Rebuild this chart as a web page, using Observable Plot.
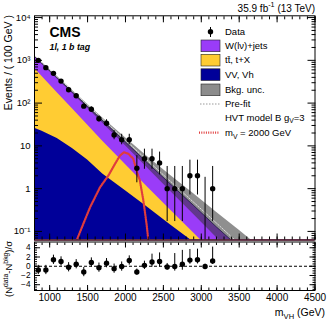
<!DOCTYPE html>
<html><head><meta charset="utf-8">
<script src="https://cdn.jsdelivr.net/npm/d3@7"></script>
<script src="https://cdn.jsdelivr.net/npm/@observablehq/plot@0.6"></script>
<style>
body{margin:0;background:#fff;}
#wrap{position:relative;width:332px;height:322px;overflow:hidden;background:#fff;}
#wrap svg{position:absolute;left:0;}
</style></head><body><div id="wrap"></div>
<script>
// ---- data ----
const binCenters = [850, 950, 1050, 1150, 1250, 1350, 1450, 1550, 1650, 1750, 1850, 1950, 2050, 2150, 2250, 2350, 2450, 2550, 2650, 2750, 2850, 2950, 3050, 3150];
const dataCounts = [1000, 675, 497, 327, 206, 149, 85, 72, 43, 34, 18, 14, 14, 3, 5, 5, 4, 1, 1, 1, 2, 2, 0, 1];
const dataErrLo  = [969, 649, 475, 309, 192, 137, 76, 63.6, 36.5, 28.2, 13.9, 10.6, 10.6, 1.37, 2.84, 2.84, 2.09, 0.17, 0.17, 0.17, 0.71, 0.71, 0, 0.17];
const dataErrHi  = [1032, 701, 520, 345, 221, 162, 95, 81.5, 50.6, 40.8, 22.8, 18.7, 18.7, 5.92, 8.38, 8.38, 7.16, 3.30, 3.30, 3.30, 4.64, 4.64, 1.84, 3.30];

const bkgMass = [800, 900, 1100, 1300, 1500, 1700, 2000, 2300, 2600, 2900, 3200, 3500, 3800, 4500];
const vvVh    = [26, 22, 14.8, 8.7, 4.7, 2.2, 0.89, 0.36, 0.14, 0.056, 0.022, 0.0086, 0.0034, 0.0005];
const ttX     = [624, 398, 160, 65, 26, 10.7, 2.8, 0.69, 0.17, 0.036, 0.005, 0.001, 0.0002, 0.00001];
const wJets   = [590, 425, 217, 108, 53, 26, 8.6, 2.8, 0.94, 0.31, 0.10, 0.033, 0.011, 0.0008];
const bkgUncLo = [1178, 794, 365, 167, 76, 34, 10.1, 2.9, 0.85, 0.25, 0.072, 0.02, 0.006, 0.0003];
const bkgUncHi = [1302, 896, 423, 200, 94, 45, 15.4, 5.4, 2.0, 0.76, 0.28, 0.107, 0.039, 0.0036];
const preFit   = [1290, 880, 410, 192, 90, 42, 13.5, 4.4, 1.45, 0.48, 0.157, 0.051, 0.017, 0.0012];

const sigMass  = [1300, 1363, 1450, 1534, 1666, 1775, 1862, 1928, 1980, 2040, 2103, 2153, 2190, 2235, 2278, 2300, 2330];
const sigValue = [0.02, 0.066, 0.16, 0.37, 1.09, 2.03, 3.8, 5.96, 7.1, 6.5, 5.0, 2.4, 1.55, 0.54, 0.15, 0.066, 0.02];

const pullValue = [-0.81, -0.81, 1.4, 1.04, -0.22, 0.44, -1.26, 0.81, -0.3, 0.67, -0.52, -0.07, 1.25, -1.26, 0.2, 0.92, 1.04, -0.15, -0.05, 0.44, 1.33, 1.4, -0.07, 1.15];
const pullErrDn = [1, 1, 1, 1, 1, 1, 1, 1, 1, 1, 1, 1, 1, 0.65, 0.9, 1.1, 1.2, 0.65, 1.0, 1.3, 0.9, 0.9, 0.4, 0.75];
const pullErrUp = [1, 1, 1, 1, 1, 1, 1, 1, 1, 1, 1, 1, 1, 0.65, 0.9, 1.7, 1.85, 0.75, 2.8, 3.0, 2.3, 2.3, 0.5, 3.0];

const xMajorTicks = [1000, 1500, 2000, 2500, 3000, 3500, 4000, 4500];
const yMajorTicks = [0.1, 1, 10, 100, 1000, 10000];
const yMajorLabels = ["10\u207B\u00B9", "1", "10", "10\u00B2", "10\u00B3", "10\u2074"];
const pullTicks = [-4, -2, 0, 2, 4];
const pullTickLabels = ["\u22124", "\u22122", "0", "2", "4"];

// ---- styling ----
const FONT = "'Liberation Sans', Arial, Helvetica, sans-serif";
const cW = "#9a3cf8", cT = "#ffcc33", cV = "#000099", cSig = "#e03c3c";
const W = 332;
const xDom = [800, 4500];
const yDom = [0.063, 11000];
const frameRight = 314.5;

// ---- tables ----
const bkg = bkgMass.map((m, i) => ({
  m, cum1: vvVh[i], cum2: vvVh[i] + ttX[i], cum3: vvVh[i] + ttX[i] + wJets[i],
  lo: bkgUncLo[i], hi: bkgUncHi[i], pre: preFit[i]
}));
const sig = sigMass.map((m, i) => ({m, v: sigValue[i]}));
const data = binCenters.map((m, i) => ({m, n: dataCounts[i], lo: dataErrLo[i], hi: dataErrHi[i]}));
const pulls = binCenters.map((m, i) => ({m, p: pullValue[i], dn: pullErrDn[i], up: pullErrUp[i]}));

const xMinorTicks = d3.range(800, 4501, 100);
const yMinorTicks = [];
for (let e = -2; e <= 4; e++) for (let k = 2; k <= 9; k++) {
  const v = k * Math.pow(10, e);
  if (v >= yDom[0] && v <= yDom[1]) yMinorTicks.push(v);
}
const pullMinor = d3.range(-5, 5.01, 0.5);
const empty = () => "";

function dropEmptyTexts(svg) {
  svg.querySelectorAll("text").forEach(t => { if (t.textContent === "") t.remove(); });
}

const wrap = document.getElementById("wrap");

// ---- main panel ----
const mainH = 241;
const main = Plot.plot({
  width: W, height: mainH,
  marginLeft: 34, marginRight: W - frameRight, marginTop: 15.3, marginBottom: mainH - 239.5,
  x: {domain: xDom, label: null},
  y: {type: "log", domain: yDom, label: null},
  style: {fontFamily: FONT, fontSize: "9.5px", background: "transparent", color: "black"},
  marks: [
    Plot.areaY(bkg, {x: "m", y1: yDom[0], y2: "cum3", fill: cW, clip: true}),
    Plot.areaY(bkg, {x: "m", y1: yDom[0], y2: "cum2", fill: cT, clip: true}),
    Plot.areaY(bkg, {x: "m", y1: yDom[0], y2: "cum1", fill: cV, clip: true}),
    Plot.areaY(bkg, {x: "m", y1: "lo", y2: "hi", fill: "#333", fillOpacity: 0.55, clip: true}),
    Plot.lineY(bkg, {x: "m", y: "cum3", stroke: "#1a1a40", strokeWidth: 0.8, clip: true}),
    Plot.lineY(bkg, {x: "m", y: "pre", stroke: "#dddddd", strokeWidth: 1, strokeDasharray: "1.5,1.5", clip: true}),
    Plot.lineY(sig, {x: "m", y: "v", stroke: cSig, strokeWidth: 2.2, strokeDasharray: "1,1.3", clip: true}),
    Plot.ruleY([yDom[0]], {stroke: "#c0487a", strokeWidth: 1.5}),
    Plot.ruleX(data, {x: "m", y1: d => Math.max(d.lo, yDom[0]), y2: "hi", stroke: "black", strokeWidth: 1, clip: true}),
    Plot.dot(data.filter(d => d.n > 0), {x: "m", y: "n", r: 2.7, fill: "black", stroke: "none"}),
    Plot.axisY(yMajorTicks, {anchor: "left", tickSize: 0, tickPadding: 4, tickFormat: d => yMajorLabels[yMajorTicks.indexOf(d)], label: null}),
    Plot.axisY(yMajorTicks, {anchor: "left", tickSize: -8, tickFormat: empty, label: null}),
    Plot.axisY(yMinorTicks, {anchor: "left", tickSize: -4, tickFormat: empty, label: null}),
    Plot.axisY(yMajorTicks, {anchor: "right", tickSize: -8, tickFormat: empty, label: null}),
    Plot.axisY(yMinorTicks, {anchor: "right", tickSize: -4, tickFormat: empty, label: null}),
    Plot.axisX(xMajorTicks, {anchor: "top", tickSize: -6, tickFormat: empty, label: null}),
    Plot.axisX(xMinorTicks, {anchor: "top", tickSize: -3, tickFormat: empty, label: null}),
    Plot.axisX(xMajorTicks, {anchor: "bottom", tickSize: -6, tickFormat: empty, label: null}),
    Plot.axisX(xMinorTicks, {anchor: "bottom", tickSize: -3, tickFormat: empty, label: null}),
    Plot.frame({stroke: "black", strokeWidth: 1})
  ]
});
main.style.top = "0px";
dropEmptyTexts(main);
wrap.appendChild(main);

// ---- ratio panel ----
const ratioH = 81;
const ratio = Plot.plot({
  width: W, height: ratioH,
  marginLeft: 34, marginRight: W - frameRight, marginTop: 0.5, marginBottom: ratioH - 49,
  x: {domain: xDom, label: null},
  y: {domain: [-5.25, 5.25], label: null},
  style: {fontFamily: FONT, fontSize: "9.5px", background: "transparent", color: "black"},
  marks: [
    Plot.ruleY([0], {stroke: "black", strokeDasharray: "3,2", strokeWidth: 1}),
    Plot.ruleX(pulls, {x: "m", y1: d => d.p - d.dn, y2: d => d.p + d.up, stroke: "black", strokeWidth: 1}),
    Plot.dot(pulls, {x: "m", y: "p", r: 2.7, fill: "black", stroke: "none"}),
    Plot.axisX(xMajorTicks, {anchor: "bottom", tickSize: 0, tickPadding: 3, fontSize: 10, tickFormat: d => String(d), label: null}),
    Plot.axisX(xMajorTicks, {anchor: "bottom", tickSize: -5, tickFormat: empty, label: null}),
    Plot.axisX(xMinorTicks, {anchor: "bottom", tickSize: -2.5, tickFormat: empty, label: null}),
    Plot.axisX(xMajorTicks, {anchor: "top", tickSize: -5, tickFormat: empty, label: null}),
    Plot.axisX(xMinorTicks, {anchor: "top", tickSize: -2.5, tickFormat: empty, label: null}),
    Plot.axisY(pullTicks, {anchor: "left", tickSize: 0, tickPadding: 4, fontSize: 8.3, tickFormat: d => pullTickLabels[pullTicks.indexOf(d)], label: null}),
    Plot.axisY(pullTicks, {anchor: "left", tickSize: -6, tickFormat: empty, label: null}),
    Plot.axisY(pullMinor, {anchor: "left", tickSize: -3, tickFormat: empty, label: null}),
    Plot.axisY(pullTicks, {anchor: "right", tickSize: -6, tickFormat: empty, label: null}),
    Plot.axisY(pullMinor, {anchor: "right", tickSize: -3, tickFormat: empty, label: null}),
    Plot.frame({stroke: "black", strokeWidth: 1})
  ]
});
ratio.style.top = "241px";
dropEmptyTexts(ratio);
wrap.appendChild(ratio);

// ---- overlay: titles, labels, legend ----
const ov = d3.create("svg").attr("width", W).attr("height", 322)
  .style("top", "0px").style("pointer-events", "none")
  .attr("font-family", FONT);

function richText(parent, x, y, parts, opts = {}) {
  const size = opts.size || 9.5;
  const t = parent.append("text").attr("x", x).attr("y", y)
    .attr("font-size", size).attr("text-anchor", opts.anchor || "start").attr("fill", "black");
  if (opts.weight) t.attr("font-weight", opts.weight);
  if (opts.style) t.attr("font-style", opts.style);
  if (opts.transform) t.attr("transform", opts.transform);
  let shift = 0;
  for (const p of parts) {
    const s = t.append("tspan").text(p.t);
    const target = p.sup ? -0.42 * size : p.sub ? 0.28 * size : 0;
    if (target !== shift) { s.attr("dy", target - shift); shift = target; }
    if (p.sup || p.sub) s.attr("font-size", 0.72 * size);
  }
  return t;
}

richText(ov, 315, 11.5, [{t: "35.9 fb"}, {t: "-1", sup: true}, {t: " (13 TeV)"}], {size: 10, anchor: "end"});
richText(ov, 49.5, 36.7, [{t: "CMS"}], {size: 14, weight: "bold"});
richText(ov, 49.5, 50, [{t: "1l, 1 b tag"}], {size: 8.8, weight: "bold", style: "italic"});
richText(ov, 0, 0, [{t: "Events / ( 100 GeV )"}], {size: 10.5, anchor: "end", transform: "translate(12,15) rotate(-90)"});
richText(ov, 0, 0, [{t: "(N"}, {t: "data", sup: true}, {t: "-N"}, {t: "bkg", sup: true}, {t: ")/\u03C3"}], {size: 9.5, anchor: "middle", transform: "translate(12,269) rotate(-90)"});
richText(ov, 325, 316, [{t: "m"}, {t: "VH", sub: true}, {t: " (GeV)"}], {size: 10.5, anchor: "end"});

// legend
const lg = ov.append("g");
const legX = 201, legW = 19, txtX = 225;
lg.append("line").attr("x1", 210.5).attr("x2", 210.5).attr("y1", 27).attr("y2", 37).attr("stroke", "black");
lg.append("circle").attr("cx", 210.5).attr("cy", 31.7).attr("r", 2.7).attr("fill", "black");
richText(lg, txtX, 35, [{t: "Data"}]);
const boxes = [
  {y: 40, fill: cW, parts: [{t: "W(l\u03BD)+jets"}], ty: 49.2},
  {y: 54.3, fill: cT, parts: [{t: "tt\u0304, t+X"}], ty: 63.4},
  {y: 68.8, fill: cV, parts: [{t: "VV, Vh"}], ty: 78},
  {y: 84, fill: "#8c8c8c", parts: [{t: "Bkg. unc."}], ty: 93.2}
];
for (const b of boxes) {
  lg.append("rect").attr("x", legX).attr("y", b.y).attr("width", legW).attr("height", 11.7)
    .attr("fill", b.fill).attr("stroke", "#222").attr("stroke-width", 0.6);
  richText(lg, txtX, b.ty, b.parts);
}
lg.append("line").attr("x1", 200).attr("x2", 220).attr("y1", 104).attr("y2", 104)
  .attr("stroke", "#999").attr("stroke-width", 1).attr("stroke-dasharray", "1.5,1.5");
richText(lg, txtX, 107.4, [{t: "Pre-fit"}]);
richText(lg, txtX, 120.7, [{t: "HVT model B g"}, {t: "V", sub: true}, {t: "=3"}]);
lg.append("line").attr("x1", 199).attr("x2", 219).attr("y1", 132.7).attr("y2", 132.7)
  .attr("stroke", cSig).attr("stroke-width", 2.2).attr("stroke-dasharray", "1,1.3");
richText(lg, txtX, 136, [{t: "m"}, {t: "V", sub: true}, {t: " = 2000 GeV"}]);

wrap.appendChild(ov.node());
</script>
</body></html>
